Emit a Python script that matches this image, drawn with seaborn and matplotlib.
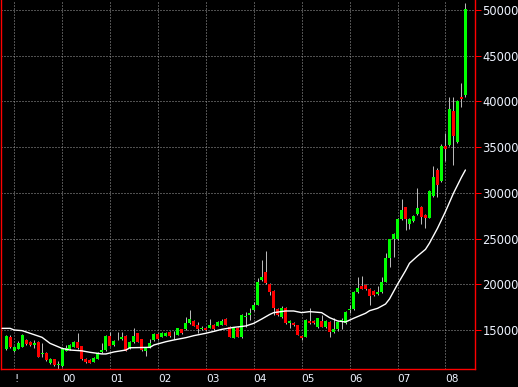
import matplotlib
matplotlib.use("Agg")
import matplotlib.pyplot as plt
import numpy as np
import pandas as pd
import seaborn as sns

# ---------------- data (monthly candles, Nov 1998 .. Jun 2008) ----------------
months = pd.period_range("1998-11", "2008-06", freq="M").strftime("%Y-%m").tolist()

open_ = [12920, 14270, 12700, 12960, 13180, 13900, 13720, 13390, 13720, 12340,
         12450, 11350, 11790, 11130, 11060, 12740, 12880, 13180, 13720, 13250,
         11790, 11720, 11540, 11870, 12590, 12810, 14340, 13360, 14050, 14020,
         14340, 12990, 13650, 14640, 13980, 12740, 13100, 13910, 14560, 14270,
         14340, 14820, 14430, 14450, 15070, 15070, 15730, 15990, 15550, 15070,
         15250, 15250, 15550, 15470, 15550, 16200, 15360, 14160, 15180, 14200,
         16450, 16640, 17190, 17730, 20470, 21380, 20030, 19300, 17300, 16420,
         17450, 15800, 15800, 15550, 14380, 14270, 15990, 15990, 15290, 15990,
         15290, 15910, 14750, 15070, 15950, 15800, 17200, 17260, 19190, 19810,
         19920, 19450, 19270, 18940, 19190, 20280, 22910, 24920, 24920, 27110,
         28420, 26600, 26960, 27660, 28490, 27580, 27290, 29660, 32500, 31300,
         35100, 35230, 38930, 35520, 40530, 40720]
high = [14500, 14450, 13250, 13750, 14600, 14000, 13850, 13900, 13800, 13540,
        12550, 11950, 11850, 11600, 12950, 13360, 13450, 13800, 14710, 13300,
        11900, 11800, 12050, 12550, 13540, 14400, 14820, 13950, 14820, 14800,
        14400, 13800, 15180, 14700, 14050, 13150, 14050, 14650, 14650, 14800,
        14800, 14900, 14930, 15250, 15150, 16460, 17190, 16100, 15910, 15400,
        15350, 16200, 15650, 16000, 16150, 16300, 15450, 15250, 15300, 16700,
        17010, 17370, 18080, 20650, 22660, 23600, 20100, 19400, 17400, 17600,
        17550, 16100, 15900, 15600, 14450, 16200, 17370, 16100, 16350, 16640,
        16100, 16000, 16280, 15950, 16300, 17100, 17730, 19300, 20830, 20900,
        20000, 19550, 19350, 19800, 20800, 23400, 25000, 25600, 27300, 29300,
        28500, 27200, 27600, 30530, 28600, 27700, 30300, 32900, 32700, 35300,
        36600, 40520, 40520, 40200, 42050, 50740]
low = [12800, 13050, 12600, 12900, 13100, 13400, 13250, 12990, 12000, 12080,
       11650, 11250, 11100, 10650, 10950, 12650, 12800, 13100, 12900, 11720,
       11400, 11350, 11450, 11800, 12500, 12750, 13200, 13300, 13910, 13900,
       12700, 12900, 13600, 13650, 12750, 12160, 13050, 13850, 13900, 14200,
       14300, 14250, 13980, 14400, 14550, 15000, 15650, 15400, 14640, 15000,
       14900, 15200, 15050, 15400, 15500, 15500, 14200, 14100, 14200, 14100,
       15290, 16050, 17100, 17700, 20400, 20050, 18830, 16640, 16550, 16350,
       15700, 15250, 15400, 14400, 13900, 14200, 15650, 15650, 15200, 15300,
       15200, 14200, 14700, 14900, 15100, 15700, 16830, 17200, 19100, 19450,
       19400, 17700, 18700, 18850, 19100, 20200, 21860, 22970, 24800, 27000,
       25940, 26000, 26850, 27550, 26600, 26200, 27200, 29550, 29500, 31200,
       33500, 35150, 33000, 35400, 39410, 40460]
close = [14340, 13180, 13100, 13610, 14420, 13470, 13320, 13610, 12080, 12450,
         11720, 11830, 11170, 11280, 12880, 12990, 13360, 13720, 12990, 11790,
         11500, 11430, 11970, 12450, 12810, 14340, 13290, 13830, 13980, 14270,
         12740, 13720, 14340, 13720, 12810, 13100, 13610, 14560, 13980, 14710,
         14710, 14340, 14470, 15180, 14640, 15730, 16170, 15470, 15070, 15250,
         15040, 15550, 15110, 15910, 16020, 15550, 14270, 15180, 14270, 16640,
         16550, 16890, 17730, 20290, 20830, 20100, 19190, 17400, 16640, 17450,
         15780, 16020, 15550, 14450, 14090, 16100, 15730, 15730, 16280, 15360,
         16020, 14820, 15070, 15910, 16100, 17000, 17260, 19190, 19630, 19520,
         19520, 18760, 18830, 19190, 20210, 22910, 24920, 25500, 27140, 28130,
         27110, 27110, 27470, 28390, 27400, 27290, 30200, 31770, 30900, 35100,
         34750, 39180, 36190, 40100, 40280, 50080]

# moving-average line
ma_months = ["1998-10", "1998-12", "1999-01", "1999-03", "1999-05", "1999-08",
             "1999-10", "2000-01", "2000-03", "2000-06", "2000-08", "2000-11",
             "2000-12", "2001-02", "2001-05", "2001-06", "2001-11", "2001-12",
             "2002-03", "2002-05", "2002-08", "2002-10", "2003-01", "2003-03",
             "2003-05", "2003-08", "2003-11", "2004-01", "2004-03", "2004-05",
             "2004-06", "2004-09", "2004-11", "2005-01", "2005-03", "2005-06",
             "2005-08", "2005-10", "2005-12", "2006-02", "2006-05", "2006-06",
             "2006-08", "2006-10", "2006-11", "2007-01", "2007-03", "2007-04",
             "2007-06", "2007-08", "2007-09", "2007-11", "2008-01", "2008-03",
             "2008-05", "2008-06"]
ma_values = [15180, 15180, 15000, 14930, 14640, 14200, 13540, 12990, 12810, 12720,
             12560, 12380, 12380, 12600, 12810, 13060, 13100, 13360, 13720, 13910,
             14160, 14380, 14640, 14850, 15070, 15290, 15440, 15730, 16200, 16700,
             16900, 17080, 17080, 16900, 17010, 16900, 16350, 15990, 15880, 16280,
             16830, 17110, 17370, 17840, 18400, 20000, 21480, 22300, 23090, 23820,
             24500, 26120, 27950, 29950, 31700, 32500]

x_tick_months = ["1999-01", "2000-01", "2001-01", "2002-01", "2003-01",
                 "2004-01", "2005-01", "2006-01", "2007-01", "2008-01"]
x_tick_labels = ["!", "00", "01", "02", "03", "04", "05", "06", "07", "08"]
y_ticks = [15000, 20000, 25000, 30000, 35000, 40000, 45000, 50000]

# ---------------- build frames ----------------
start = pd.Period("1998-11", freq="M")
def mpos(m):
    return (pd.Period(m, freq="M") - start).n

df = pd.DataFrame({"month": months, "open": open_, "high": high,
                   "low": low, "close": close})
df["pos"] = [mpos(m) for m in df["month"]]
df["up"] = df["close"] >= df["open"]
ma = pd.DataFrame({"pos": [mpos(m) for m in ma_months], "ma": ma_values})

# ---------------- style ----------------
sns.set_style("dark", {"axes.facecolor": "black", "figure.facecolor": "black",
                       "axes.edgecolor": "#ff0000", "grid.color": "#a0a0a0"})
plt.rcParams["font.family"] = ["DejaVu Sans"]

W, H = 518, 387
fig = plt.figure(figsize=(W / 100, H / 100), dpi=100)
ax = fig.add_axes([0.6 / W, 18 / H, 474.4 / W, 369 / H])
ax.set_facecolor("black")

GREEN, RED, WICK = "#00ff00", "#ff0000", "#b8b8b8"
px = 0.72

# wicks
ax.vlines(df["pos"], df["low"], df["high"], color=WICK, linewidth=px, zorder=2)
# bodies
ax.bar(df["pos"], df["close"] - df["open"], bottom=df["open"], width=0.75,
       color=np.where(df["up"], GREEN, RED), linewidth=0, zorder=3)

# moving average
sns.lineplot(data=ma, x="pos", y="ma", color="white", linewidth=1.0,
             ax=ax, zorder=4)

# axes limits
ax.set_xlim(-1.375, 117.4)
ax.set_ylim(10625 + 109.4, 51094)

# ticks
ax.set_xticks([mpos(m) for m in x_tick_months])
ax.set_xticklabels(x_tick_labels, ha="left")
ax.yaxis.tick_right()
ax.set_yticks(y_ticks)
ax.set_yticklabels([str(v) for v in y_ticks])
ax.tick_params(axis="both", colors="#ff0000", direction="out",
               width=px, labelcolor="#eef3ff")
ax.tick_params(axis="x", length=3.6, pad=0, labelsize=7.6)
ax.tick_params(axis="y", length=4.3, pad=1.0, labelsize=8.3,
               left=False, right=True)
ax.set_xlabel("")
ax.set_ylabel("")

# grid
ax.grid(True, color="#a0a0a0", linestyle=(0, (1, 2)), linewidth=px, zorder=1)
ax.set_axisbelow(True)

# spines
for side in ["left", "bottom", "right"]:
    ax.spines[side].set_visible(True)
    ax.spines[side].set_color("#ff0000")
    ax.spines[side].set_linewidth(1.0)
ax.spines["top"].set_visible(False)

fig.savefig("out.png", dpi=100, facecolor="black")
